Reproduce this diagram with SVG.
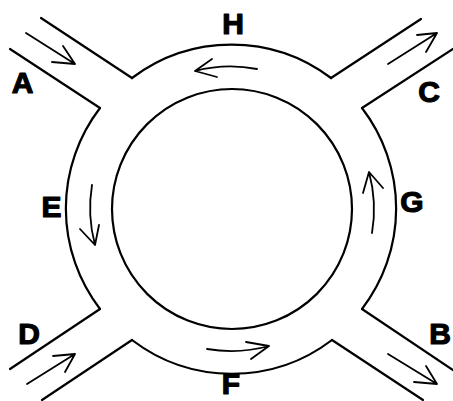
<svg xmlns="http://www.w3.org/2000/svg" width="453" height="401" viewBox="0 0 453 401">
<style>
.ln{fill:none;stroke:#000;stroke-width:2.2;stroke-linecap:round;stroke-linejoin:miter}
.ar{fill:none;stroke:#000;stroke-width:1.8;stroke-linecap:round;stroke-linejoin:round}
.lb{font-family:"Liberation Sans",Arial,sans-serif;font-weight:bold;font-size:30px;fill:#000;stroke:#000;stroke-width:1.2;stroke-linejoin:round;text-anchor:middle}
</style>
<rect width="453" height="401" fill="#fff"/>
<g id="roundabout">
<path class="ln" d="M132,78 A165,165 0 0 1 331,78"/>
<path class="ln" d="M362,108 A165,165 0 0 1 362,309"/>
<path class="ln" d="M332,340 A165,165 0 0 1 132,340"/>
<path class="ln" d="M100,309 A165,165 0 0 1 100,108"/>
<circle class="ln" cx="232" cy="209" r="120"/>
</g>
<g id="roads">
<path class="ln" d="M41,18 L132,78"/>
<path class="ln" d="M10,49 L100,108"/>
<path class="ln" d="M421,19 L331,78"/>
<path class="ln" d="M453,49 L362,108"/>
<path class="ln" d="M10,369 L100,309"/>
<path class="ln" d="M42,400 L132,340"/>
<path class="ln" d="M453,370 L362,309"/>
<path class="ln" d="M423,400 L332,340"/>
</g>
<g id="connectors">
<path class="ar" d="M26,33 L75,64 M63,46 L75,64 L52,62"/>
<path class="ar" d="M388,64 L437,33 M417,35 L437,33 L426,52"/>
<path class="ar" d="M388,354 L437,384 M426,366 L437,384 L414,382"/>
<path class="ar" d="M27,384 L75,354 M53,356 L75,354 L65,372"/>
<path class="ar" d="M257,69 A142,142 0 0 0 195,71 M212,59 L195,71 L217,77"/>
<path class="ar" d="M92,185 A142,142 0 0 0 95,245 M80,229 L95,245 L99,225"/>
<path class="ar" d="M207,349 A142,142 0 0 0 269,346 M246,342 L269,346 L251,359"/>
<path class="ar" d="M372,233 A142,142 0 0 0 369,172 M363,193 L369,172 L383,188"/>
</g>
<g id="labels">
<text class="lb" x="22.5" y="93">A</text>
<text class="lb" x="233" y="34">H</text>
<text class="lb" x="429" y="102">C</text>
<text class="lb" x="51.5" y="217">E</text>
<text class="lb" x="412" y="212">G</text>
<text class="lb" x="29" y="344">D</text>
<text class="lb" x="440" y="344">B</text>
<text class="lb" x="231" y="394">F</text>
</g>
</svg>
